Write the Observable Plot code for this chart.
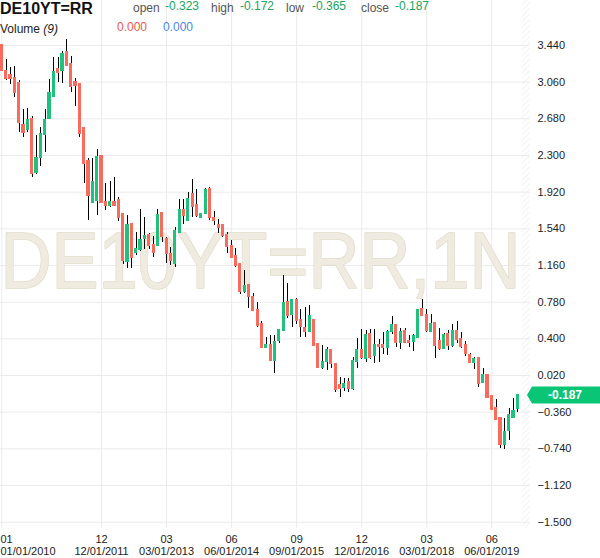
<!DOCTYPE html>
<html>
<head>
<meta charset="utf-8">
<script src="https://cdn.jsdelivr.net/npm/d3@7"></script>
<script src="https://cdn.jsdelivr.net/npm/@observablehq/plot@0.6"></script>
<style>
  html, body { margin: 0; padding: 0; background: #fff; }
  #wrap { position: relative; width: 600px; height: 558px; overflow: hidden; font-family: "Liberation Sans", Arial, sans-serif; }
  #chart { position: absolute; left: 0; top: 0; }
  .h { position: absolute; white-space: nowrap; line-height: 1; }
</style>
</head>
<body>
<div id="wrap">
  <div id="chart"></div>
  <div class="h" style="left:0;top:1px;font-size:16px;font-weight:bold;color:#111;">DE10YT=RR</div>
  <div class="h" style="left:0;top:23px;font-size:12px;color:#222;">Volume <i>(9)</i></div>
  <div class="h" style="left:117px;top:21px;font-size:12px;color:#e8584f;">0.000</div>
  <div class="h" style="left:163px;top:21px;font-size:12px;color:#4a87e6;">0.000</div>
</div>
<script>
// ---- data (monthly candles, Jan 2010 .. Dec 2019) ----
const startMonth = "2010-01-01";
const endMonth = "2020-01-01";
const openV = [3.44,3.174,3.129,3.10,3.05,2.61,2.566,2.68,2.117,2.276,2.518,2.68,
  2.911,3.198,3.174,3.374,3.243,3.06,3.043,2.58,2.24,1.816,1.833,2.29,
  1.816,1.78,1.816,1.833,1.695,1.20,1.585,1.288,1.322,1.44,1.471,1.367,
  1.367,1.702,1.436,1.274,1.184,1.495,1.737,1.62,1.896,1.782,1.66,1.695,
  1.955,1.654,1.575,1.575,1.47,1.357,1.253,1.17,0.884,0.953,0.833,0.694,
  0.548,0.313,0.33,0.175,0.376,0.486,0.78,0.649,0.797,0.597,0.514,0.479,
  0.597,0.341,0.106,0.16,0.286,0.134,-0.084,-0.107,-0.05,-0.118,0.168,0.279,
  0.193,0.45,0.227,0.33,0.33,0.306,0.476,0.538,0.358,0.476,0.372,0.372,
  0.417,0.704,0.649,0.476,0.566,0.372,0.296,0.452,0.331,0.476,0.393,0.338,
  0.227,0.151,0.20,-0.056,0.027,-0.194,-0.319,-0.422,-0.70,-0.55,-0.412,-0.323];
const highV = [3.44,3.29,3.215,3.22,3.077,2.773,2.783,2.70,2.507,2.587,2.78,3.084,
  3.32,3.32,3.38,3.499,3.326,3.094,3.05,2.59,2.265,2.272,2.366,2.30,
  2.006,2.03,2.07,1.87,1.70,1.68,1.60,1.505,1.737,1.66,1.488,1.46,
  1.737,1.702,1.453,1.343,1.55,1.84,1.84,1.92,2.048,1.944,1.695,1.955,
  1.972,1.72,1.633,1.58,1.505,1.42,1.333,1.17,1.108,0.953,0.867,0.781,
  0.583,0.41,0.435,0.435,0.49,1.056,0.97,0.804,0.814,0.70,0.721,0.745,
  0.597,0.341,0.33,0.307,0.29,0.134,0.0,-0.015,-0.01,0.203,0.40,0.50,
  0.486,0.50,0.50,0.39,0.469,0.486,0.635,0.545,0.51,0.51,0.435,0.44,
  0.704,0.808,0.704,0.649,0.566,0.51,0.452,0.486,0.545,0.58,0.469,0.372,
  0.244,0.21,0.21,0.096,0.027,-0.194,-0.23,-0.422,-0.43,-0.32,-0.222,-0.172];
const lowV = [3.17,3.077,3.036,2.90,2.54,2.49,2.54,2.075,2.10,2.186,2.335,2.68,
  2.91,3.06,3.05,3.22,2.956,2.808,2.483,2.006,1.63,1.80,1.68,1.80,
  1.73,1.76,1.78,1.62,1.17,1.13,1.126,1.26,1.31,1.322,1.322,1.24,
  1.357,1.402,1.177,1.16,1.143,1.488,1.59,1.62,1.66,1.66,1.654,1.688,
  1.626,1.575,1.495,1.45,1.28,1.23,1.143,0.86,0.87,0.712,0.69,0.522,
  0.31,0.296,0.17,0.044,0.355,0.48,0.607,0.514,0.549,0.417,0.417,0.469,
  0.32,0.10,0.079,0.072,0.089,-0.153,-0.205,-0.15,-0.16,-0.13,0.09,0.19,
  0.16,0.19,0.148,0.16,0.238,0.227,0.44,0.314,0.29,0.348,0.314,0.27,
  0.40,0.635,0.469,0.469,0.193,0.279,0.29,0.28,0.314,0.348,0.303,0.22,
  0.14,0.082,-0.10,-0.06,-0.215,-0.343,-0.446,-0.733,-0.747,-0.654,-0.422,-0.365];
const closeV = [3.18,3.094,3.094,2.956,2.645,2.54,2.663,2.11,2.276,2.518,2.67,2.946,
  3.164,3.153,3.347,3.233,3.008,3.025,2.53,2.21,1.885,2.023,2.28,1.816,
  1.78,1.813,1.78,1.654,1.205,1.575,1.239,1.333,1.426,1.46,1.367,1.298,
  1.678,1.454,1.28,1.205,1.516,1.73,1.678,1.851,1.765,1.678,1.688,1.937,
  1.66,1.62,1.557,1.47,1.35,1.24,1.16,0.884,0.942,0.833,0.695,0.539,
  0.313,0.33,0.175,0.365,0.486,0.77,0.642,0.797,0.583,0.521,0.469,0.631,
  0.331,0.106,0.158,0.286,0.141,-0.129,-0.118,-0.067,-0.118,0.168,0.279,0.203,
  0.434,0.203,0.33,0.32,0.306,0.469,0.538,0.358,0.469,0.358,0.358,0.424,
  0.694,0.642,0.486,0.556,0.331,0.296,0.441,0.324,0.476,0.393,0.314,0.245,
  0.151,0.186,-0.066,0.02,-0.205,-0.332,-0.436,-0.70,-0.567,-0.395,-0.353,-0.187];

const yTicks = [3.44,3.06,2.68,2.30,1.92,1.54,1.16,0.78,0.40,0.02,-0.36,-0.74,-1.12,-1.50];
const xTickDates = ["2010-01-01","2011-12-01","2013-03-01","2014-06-01","2015-09-01","2016-12-01","2018-03-01","2019-06-01"];
const xTickTop = ["01","12","03","06","09","12","03","06"];
const xTickBottom = ["01/01/2010","12/01/2011","03/01/2013","06/01/2014","09/01/2015","12/01/2016","03/01/2018","06/01/2019"];
const headerLabels = ["open", "high", "low", "close"];
const headerValues = ["-0.323", "-0.172", "-0.365", "-0.187"];
const lastLabel = "-0.187";
const watermark = "DE10YT=RR,1N";

const UP = "#1ec27c", DOWN = "#f96b5d";

const months = d3.utcMonth.range(new Date(startMonth), new Date(endMonth));
const candles = months.map((date, i) => ({
  i, date, open: openV[i], high: highV[i], low: lowV[i], close: closeV[i],
  top: Math.max(openV[i], closeV[i]), bot: Math.min(openV[i], closeV[i]),
  up: closeV[i] >= openV[i]
}));
const monthKey = d => d.toISOString().slice(0, 7);
const ticks = xTickDates.map((s, k) => ({
  i: months.findIndex(m => monthKey(m) === s.slice(0, 7)),
  label: xTickTop[k] + "\n" + xTickBottom[k]
}));

const plot = Plot.plot({
  width: 600, height: 558,
  marginLeft: 0, marginRight: 70, marginTop: 0, marginBottom: 30,
  style: {fontFamily: "'Liberation Sans', Arial, sans-serif", fontSize: "11px", color: "#222", background: "#fff"},
  x: {domain: [-0.3, 121.93], axis: null},
  y: {domain: [-1.5652, 3.9063], axis: "right", ticks: yTicks, tickFormat: d3.format(".3f"), tickSize: 0, tickPadding: 7, label: null},
  marks: [
    Plot.ruleX(ticks, {x: "i", stroke: "#ebebeb", strokeWidth: 1}),
    Plot.ruleY(yTicks, {stroke: "#ebebeb", strokeWidth: 1}),
    Plot.rect([0], {x1: 120, x2: 121.93, fill: "url(#hatch)"}),
    Plot.text([watermark], {frameAnchor: "top-left", dx: 0, dy: 287, lineAnchor: "bottom", textAnchor: "start", fontSize: 80, fill: "#efebe1", stroke: "#e2dbc8", strokeWidth: 1.5}),
    Plot.ruleX(candles, {x: "i", y1: "low", y2: "high", stroke: "#000", strokeWidth: 1, shapeRendering: "crispEdges"}),
    Plot.rect(candles, {filter: d => d.up, x1: d => d.i - 0.36, x2: d => d.i + 0.36, y1: "bot", y2: "top", fill: UP, insetTop: -0.8, insetBottom: -0.8, shapeRendering: "crispEdges"}),
    Plot.rect(candles, {filter: d => !d.up, x1: d => d.i - 0.36, x2: d => d.i + 0.36, y1: "bot", y2: "top", fill: DOWN, insetTop: -0.8, insetBottom: -0.8, shapeRendering: "crispEdges"}),
    Plot.text(ticks.slice(0, 1), {x: "i", text: "label", frameAnchor: "bottom", dy: 6, lineAnchor: "top", textAnchor: "start", dx: -1.3, lineHeight: 1.1, fontSize: 11, fill: "#222"}),
    Plot.text(ticks.slice(1), {x: "i", text: "label", frameAnchor: "bottom", dy: 6, lineAnchor: "top", textAnchor: "middle", lineHeight: 1.1, fontSize: 11, fill: "#222"})
  ]
});

// hatch pattern defs
const svg = d3.select(plot);
const defs = svg.insert("defs", ":first-child");
const pat = defs.append("pattern").attr("id", "hatch").attr("patternUnits", "userSpaceOnUse")
  .attr("width", 4).attr("height", 4).attr("patternTransform", "rotate(45)");
pat.append("line").attr("x1", 0).attr("y1", 0).attr("x2", 0).attr("y2", 4).attr("stroke", "#e6e6e6").attr("stroke-width", 1);

// narrow the watermark so it ends before the axis labels
svg.selectAll("text").filter(function() { return this.textContent === watermark; })
  .each(function() {
    const t = d3.select(this);
    const w = this.getComputedTextLength ? this.getComputedTextLength() : 589;
    const k = 520 / (w || 589);
    const tr = t.attr("transform") || "";
    t.attr("transform", tr + ` scale(${k},1)`);
  });

// last price tag on the y scale
const yS = plot.scale("y");
const yy = yS.apply(+lastLabel);
const g = svg.append("g");
g.append("path").attr("d", `M527,${yy} L532,${yy-8.5} L600,${yy-8.5} L600,${yy+8.5} L532,${yy+8.5} Z`).attr("fill", "#0bc576");
g.append("text").attr("x", 565).attr("y", yy).attr("dy", "0.35em").attr("text-anchor", "middle")
  .attr("fill", "#fff").attr("font-size", 12).attr("font-weight", "bold").text(lastLabel);

document.getElementById("chart").appendChild(plot);

// header OHLC
const wrap = document.getElementById("wrap");
const labelX = [133, 211, 286, 361];
const valueX = [165, 240, 312, 395];
headerLabels.forEach((lab, k) => {
  const a = document.createElement("div"); a.className = "h";
  a.style.cssText = `left:${labelX[k]}px;top:2px;font-size:12px;color:#555;`; a.textContent = lab;
  const b = document.createElement("div"); b.className = "h";
  b.style.cssText = `left:${valueX[k]}px;top:0px;font-size:12px;color:#18a55e;`; b.textContent = headerValues[k];
  wrap.appendChild(a); wrap.appendChild(b);
});
</script>
</body>
</html>
